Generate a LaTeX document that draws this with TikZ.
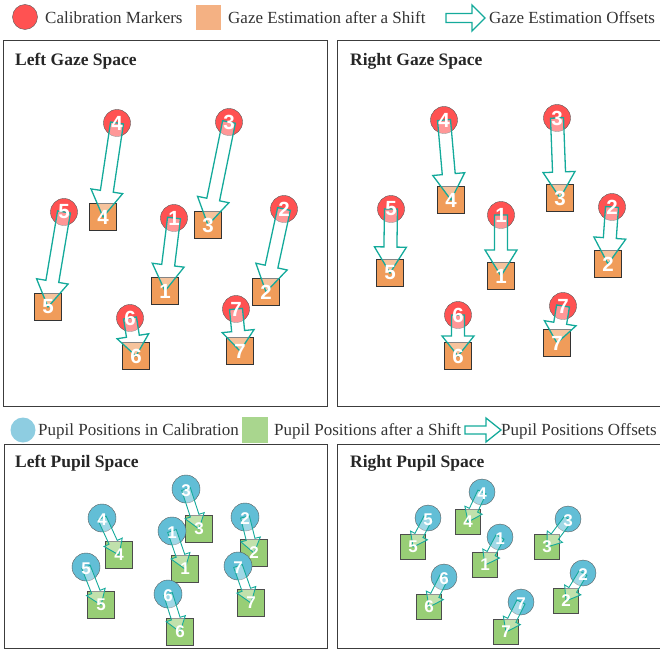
\documentclass[tikz,border=0pt]{standalone}
\usepackage{fontspec}
\setmainfont{Liberation Serif}
\setsansfont{Liberation Sans}
\usetikzlibrary{calc,positioning}
\pgfdeclarelayer{boxes}
\pgfdeclarelayer{arrows}
\pgfdeclarelayer{labels}
\pgfsetlayers{boxes,main,arrows,labels}
\definecolor{markred}{RGB}{255,82,82}
\definecolor{gazeorange}{RGB}{240,156,90}
\definecolor{keyorange}{RGB}{244,177,131}
\definecolor{pupilblue}{RGB}{98,190,214}
\definecolor{keyblue}{RGB}{142,205,225}
\definecolor{shiftgreen}{RGB}{152,206,118}
\definecolor{keygreen}{RGB}{169,214,142}
\definecolor{offsetteal}{RGB}{20,170,155}
\definecolor{framegray}{RGB}{60,60,60}
\tikzset{
  digit/.style={text=white,font=\sffamily\bfseries\fontsize{20.5}{20}\selectfont,inner sep=0pt},
  smalldigit/.style={text=white,font=\sffamily\bfseries\fontsize{17}{17}\selectfont,inner sep=0pt},
  marker/.style={circle,draw=black!65,fill=markred,minimum size=27pt,inner sep=0pt},
  gazebox/.style={draw=black!80,fill=gazeorange,minimum size=27pt,inner sep=0pt},
  pupil/.style={circle,draw=black!65,fill=pupilblue,minimum size=28pt,inner sep=0pt},
  shiftbox/.style={draw=black!70,fill=shiftgreen,minimum size=27pt,inner sep=0pt},
  offset/.style={draw=offsetteal,line width=1.3pt,fill=white,fill opacity=0.4},
  thinoffset/.style={offset,line width=0.9pt},
  panel/.style={draw=framegray,line width=0.8pt},
  title/.style={font=\bfseries\fontsize{17.5}{20}\selectfont,text=black!85,anchor=west,inner sep=0pt},
  legend/.style={font=\fontsize{17}{18}\selectfont,text=black!80,anchor=west,inner sep=0pt},
}
% block arrow: [style]{from}{to}{shaft half width}{head half width}{head length}
\newcommand{\offsetarrow}[6][offset]{%
  \draw[#1] ($(#2)!#4!90:(#3)$) -- ($(#3)!#6!(#2)!#4!90:(#3)$)
    -- ($(#3)!#6!(#2)!#5!90:(#3)$) -- (#3)
    -- ($(#3)!#6!(#2)!#5!-90:(#3)$) -- ($(#3)!#6!(#2)!#4!-90:(#3)$)
    -- ($(#2)!#4!-90:(#3)$) -- cycle;}
\newcommand{\leftgaze}{1/174/218/165/291/26,2/284/209/266/292/26,3/229/122/208/225/26,
  4/117/123/103/217/26,5/64/212/48/307/26,6/130/318/136/356/20,7/236/309/240/351/20}
\newcommand{\rightgaze}{1/501/215/501/276/26,2/612/207/608/264/26,3/557/118/560/198/26,
  4/444/120/451/200/26,5/391/209/390/273/26,6/458/315/458/356/20,7/563/306/557/343/20}
\newcommand{\leftpupil}{1/172/531/185/569,2/245/517/254/553,3/186/489/199/529,
  4/102/518/119/555,5/86/567/101/605,6/168/594/180/632,7/238/566/251/603}
\newcommand{\rightpupil}{1/500/537/485/565,2/583/573/566/601,3/568/519/547/547,
  4/482/492/468/522,5/428/518/413/547,6/444/577/429/607,7/521/602/506/632}

\begin{document}
\begin{tikzpicture}[x=1pt,y=-1pt]
  \useasboundingbox (0,0) rectangle (660,650);
  % legend, gaze
  \node[marker,minimum size=25pt] (keymarker) at (25,17) {};
  \node[legend] (keymarkertext) at (45,18) {Calibration Markers};
  \node[gazebox,draw=none,fill=keyorange,minimum size=25pt] (keygaze) at (208.5,17.5) {};
  \node[legend] (keygazetext) at (228,18) {Gaze Estimation after a Shift};
  \coordinate (keygazetail) at (446,18);
  \coordinate (keygazetip) at (485,18);
  \offsetarrow{keygazetail}{keygazetip}{4.5pt}{13pt}{13pt}
  \node[legend] (keygazeoffsets) at (489,18) {Gaze Estimation Offsets};
  % legend, pupil
  \node[pupil,draw=none,fill=keyblue,minimum size=25pt] (keypupil) at (23,430) {};
  \node[legend] (keypupiltext) at (38,431) {Pupil Positions in Calibration};
  \node[shiftbox,draw=none,fill=keygreen,minimum size=26pt] (keyshift) at (254.5,430) {};
  \node[legend] (keyshifttext) at (274,431) {Pupil Positions after a Shift};
  \coordinate (keypupiltail) at (465,430);
  \coordinate (keypupiltip) at (501,430);
  \offsetarrow{keypupiltail}{keypupiltip}{4pt}{12pt}{15pt}
  \node[legend] (keypupiloffsets) at (501,431) {Pupil Positions Offsets};
  % panels
  \draw[panel] (3,40) rectangle (327,406);
  \draw[panel] (660,40) -- (337,40) -- (337,406) -- (660,406);
  \draw[panel] (4,444) rectangle (327,648);
  \draw[panel] (660,444) -- (337,444) -- (337,648) -- (660,648);
  \node[title] (lgtitle) at (15,61) {Left Gaze Space};
  \node[title] (rgtitle) at (350,61) {Right Gaze Space};
  \node[title] (lptitle) at (15,463) {Left Pupil Space};
  \node[title] (rptitle) at (350,463) {Right Pupil Space};
  % left gaze space
  \foreach \n/\cx/\cy/\sx/\sy/\hd in \leftgaze {
    \begin{pgfonlayer}{boxes}
      \node[gazebox] (lgs\n) at (\sx,\sy) {};
    \end{pgfonlayer}
    \node[marker] (lgc\n) at (\cx,\cy) {};
    \begin{pgfonlayer}{arrows}
      \offsetarrow{lgc\n.center}{lgs\n.center}{6.5pt}{16pt}{\hd pt}
    \end{pgfonlayer}
    \begin{pgfonlayer}{labels}
      \node[digit] (lgcn\n) at (lgc\n) {\n};
      \node[digit] (lgsn\n) at (lgs\n) {\n};
    \end{pgfonlayer}
  }
  % right gaze space
  \foreach \n/\cx/\cy/\sx/\sy/\hd in \rightgaze {
    \begin{pgfonlayer}{boxes}
      \node[gazebox] (rgs\n) at (\sx,\sy) {};
    \end{pgfonlayer}
    \node[marker] (rgc\n) at (\cx,\cy) {};
    \begin{pgfonlayer}{arrows}
      \offsetarrow{rgc\n.center}{rgs\n.center}{6.5pt}{16pt}{\hd pt}
    \end{pgfonlayer}
    \begin{pgfonlayer}{labels}
      \node[digit] (rgcn\n) at (rgc\n) {\n};
      \node[digit] (rgsn\n) at (rgs\n) {\n};
    \end{pgfonlayer}
  }
  % left pupil space
  \foreach \n/\cx/\cy/\sx/\sy in \leftpupil {
    \begin{pgfonlayer}{boxes}
      \node[shiftbox] (lps\n) at (\sx,\sy) {};
    \end{pgfonlayer}
    \node[pupil] (lpc\n) at (\cx,\cy) {};
    \begin{pgfonlayer}{arrows}
      \offsetarrow[thinoffset]{lpc\n.center}{lps\n.center}{4.5pt}{10pt}{14pt}
    \end{pgfonlayer}
    \begin{pgfonlayer}{labels}
      \node[smalldigit] (lpcn\n) at ([yshift=-2pt]lpc\n.center) {\n};
      \node[smalldigit] (lpsn\n) at (lps\n) {\n};
    \end{pgfonlayer}
  }
  % right pupil space
  \foreach \n/\cx/\cy/\sx/\sy in \rightpupil {
    \begin{pgfonlayer}{boxes}
      \node[shiftbox,minimum size=25pt] (rps\n) at (\sx,\sy) {};
    \end{pgfonlayer}
    \node[pupil,minimum size=26pt] (rpc\n) at (\cx,\cy) {};
    \begin{pgfonlayer}{arrows}
      \offsetarrow[thinoffset]{rpc\n.center}{rps\n.center}{4.5pt}{9.5pt}{13pt}
    \end{pgfonlayer}
    \begin{pgfonlayer}{labels}
      \node[smalldigit] (rpcn\n) at ([yshift=-2pt]rpc\n.center) {\n};
      \node[smalldigit] (rpsn\n) at (rps\n) {\n};
    \end{pgfonlayer}
  }
\end{tikzpicture}
\end{document}
